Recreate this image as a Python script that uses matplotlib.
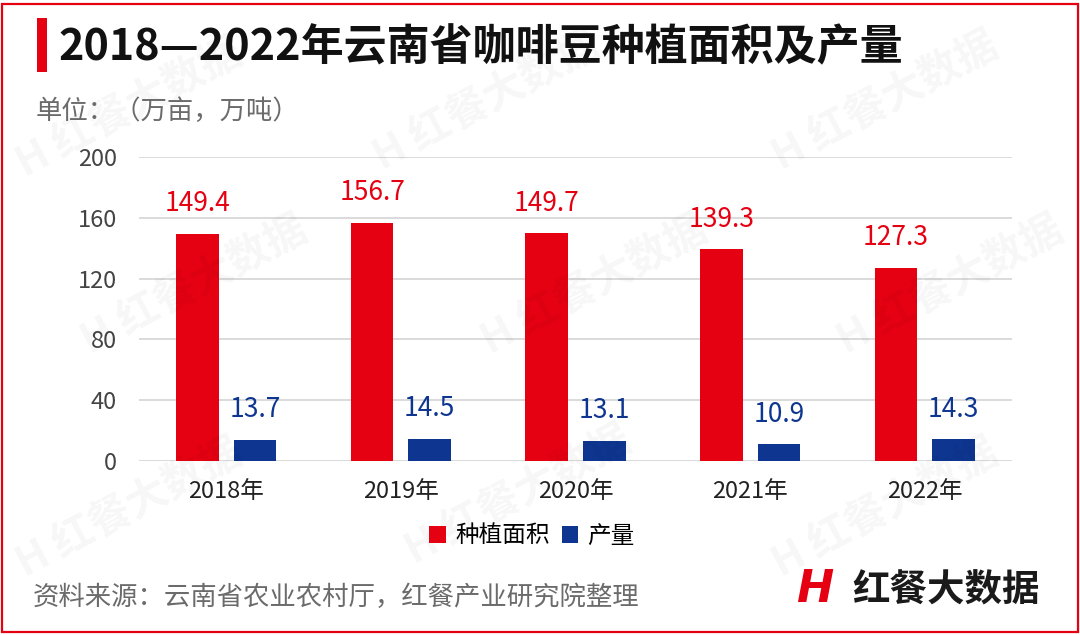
import numpy as np
import matplotlib.pyplot as plt
from matplotlib.patches import Rectangle

plt.rcParams['font.family'] = ['Noto Sans CJK SC', 'DejaVu Sans']

years = ['2018年', '2019年', '2020年', '2021年', '2022年']
area = [149.4, 156.7, 149.7, 139.3, 127.3]      # 种植面积 (万亩)
output = [13.7, 14.5, 13.1, 10.9, 14.3]         # 产量 (万吨)
yticks = [0, 40, 80, 120, 160, 200]

red = '#e50012'
blue = '#0e3590'

fig = plt.figure(figsize=(10.8, 6.35), dpi=100)

# outer red frame
fig.patches.append(Rectangle((0.002, 0.004), 0.996, 0.99, transform=fig.transFigure,
                             fill=False, edgecolor=red, linewidth=1.6))

# faint watermarks
for wx, wy in [(0.12, 0.83), (0.45, 0.84), (0.82, 0.84), (0.18, 0.55), (0.55, 0.55),
               (0.88, 0.55), (0.12, 0.2), (0.48, 0.22), (0.82, 0.2)]:
    fig.text(wx, wy, 'H 红餐大数据', fontsize=30, fontweight='bold', color='#000000',
             alpha=0.035, rotation=28, ha='center', va='center')

# title
fig.patches.append(Rectangle((37/1080, 1-72/635), 10/1080, 54/635, transform=fig.transFigure,
                             facecolor=red, edgecolor='none'))
fig.text(58/1080, 1-47/635, '2018—2022年云南省咖啡豆种植面积及产量', fontsize=31,
         fontweight='bold', color='#111111', va='center', ha='left')
fig.text(36/1080, 1-111/635, '单位：（万亩，万吨）', fontsize=19, color='#6b6b6b',
         va='center', ha='left')

ax = fig.add_axes([139/1080, 1-461/635, (1012-139)/1080, 304/635])
x = np.arange(len(years))
w = 0.245
off = 0.165
b1 = ax.bar(x - off, area, w, color=red, label='种植面积', zorder=3)
b2 = ax.bar(x + off, output, w, color=blue, label='产量', zorder=3)

for xi, v in zip(x, area):
    ax.text(xi - off, v + 11, f'{v}', ha='center', va='bottom', fontsize=19, color=red)
for xi, v in zip(x, output):
    ax.text(xi + off, v + 11, f'{v}', ha='center', va='bottom', fontsize=19, color=blue)

ax.set_xlim(-0.5, len(years) - 0.5)
ax.set_ylim(0, 200)
ax.set_yticks(yticks)
ax.set_yticklabels([str(t) for t in yticks], fontsize=17, color='#444444')
ax.set_xticks(x)
ax.set_xticklabels(years, fontsize=17, color='#222222')
ax.grid(axis='y', color='#d4d4d4', linewidth=1.2, zorder=0)
for s in ax.spines.values():
    s.set_visible(False)
ax.tick_params(axis='both', length=0)
ax.tick_params(axis='y', pad=16)
ax.tick_params(axis='x', pad=14)

fig.legend(handles=[b1, b2], loc='center', bbox_to_anchor=(532/1080, 1-536/635), ncol=2,
           frameon=False, fontsize=17, handlelength=0.7, handleheight=0.7,
           handletextpad=0.4, columnspacing=0.5)

fig.text(33/1080, 1-597/635, '资料来源：云南省农业农村厅，红餐产业研究院整理', fontsize=19,
         color='#6b6b6b', va='center', ha='left')

# logo
fig.text(815/1080, 1-590/635, 'H', fontsize=32, fontweight='bold', fontstyle='italic',
         color=red, va='center', ha='center', family='DejaVu Sans')
fig.text(852/1080, 1-590/635, '红餐大数据', fontsize=27, fontweight='bold',
         color='#1a1a1a', va='center', ha='left')

fig.savefig('out.png', dpi=100)
